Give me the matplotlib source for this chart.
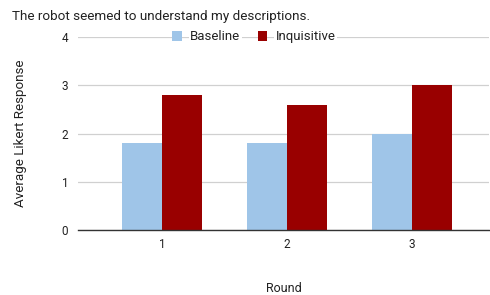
import matplotlib.pyplot as plt
import numpy as np

plt.rcParams['font.family'] = ['Roboto', 'DejaVu Sans']

rounds = ['1', '2', '3']
baseline = [1.8, 1.8, 2.0]
inquisitive = [2.8, 2.6, 3.0]

fig = plt.figure(figsize=(4.9, 2.95), dpi=100)
ax = fig.add_axes([0.159, 0.2203, 0.839, 0.6543])

x = np.arange(len(rounds))
w = 0.32
ax.bar(x - w / 2, baseline, w, color='#9fc5e8', label='Baseline', zorder=3)
ax.bar(x + w / 2, inquisitive, w, color='#990000', label='Inquisitive', zorder=3)

ax.set_xlim(-0.672, 2.616)
ax.set_ylim(0, 4)
ax.set_yticks([0, 1, 2, 3, 4])
ax.set_xticks(x)
ax.set_xticklabels(rounds)
ax.tick_params(length=0, labelsize=8.5, colors='#222222')
ax.tick_params(axis='y', pad=7)
ax.tick_params(axis='x', pad=6)
ax.grid(axis='y', color='#d0d0d0', linewidth=0.9, zorder=0)
ax.set_axisbelow(True)
for s in ['top', 'right', 'left']:
    ax.spines[s].set_visible(False)
ax.spines['bottom'].set_color('#333333')
ax.spines['bottom'].set_linewidth(1.0)
ax.spines['bottom'].set_zorder(4)

ax.set_ylabel('Average Likert Response', fontsize=9.6, color='#222222')
ax.yaxis.set_label_coords(-0.123, 0.5)
ax.set_xlabel('Round', fontsize=9, color='#222222', labelpad=22)

leg = ax.legend(loc='center', bbox_to_anchor=(0.428, 1.0), ncol=2, frameon=False,
                fontsize=9.5, handlelength=0.75, handleheight=0.75, handletextpad=0.6,
                columnspacing=1.3, borderpad=0)
for t in leg.get_texts():
    t.set_color('#222222')
    t.set_bbox(dict(facecolor='white', edgecolor='none', pad=1))

fig.text(0.024, 0.965, 'The robot seemed to understand my descriptions.', fontsize=9.7,
         color='#222222', va='top', ha='left')

fig.savefig('out.png', dpi=100)
